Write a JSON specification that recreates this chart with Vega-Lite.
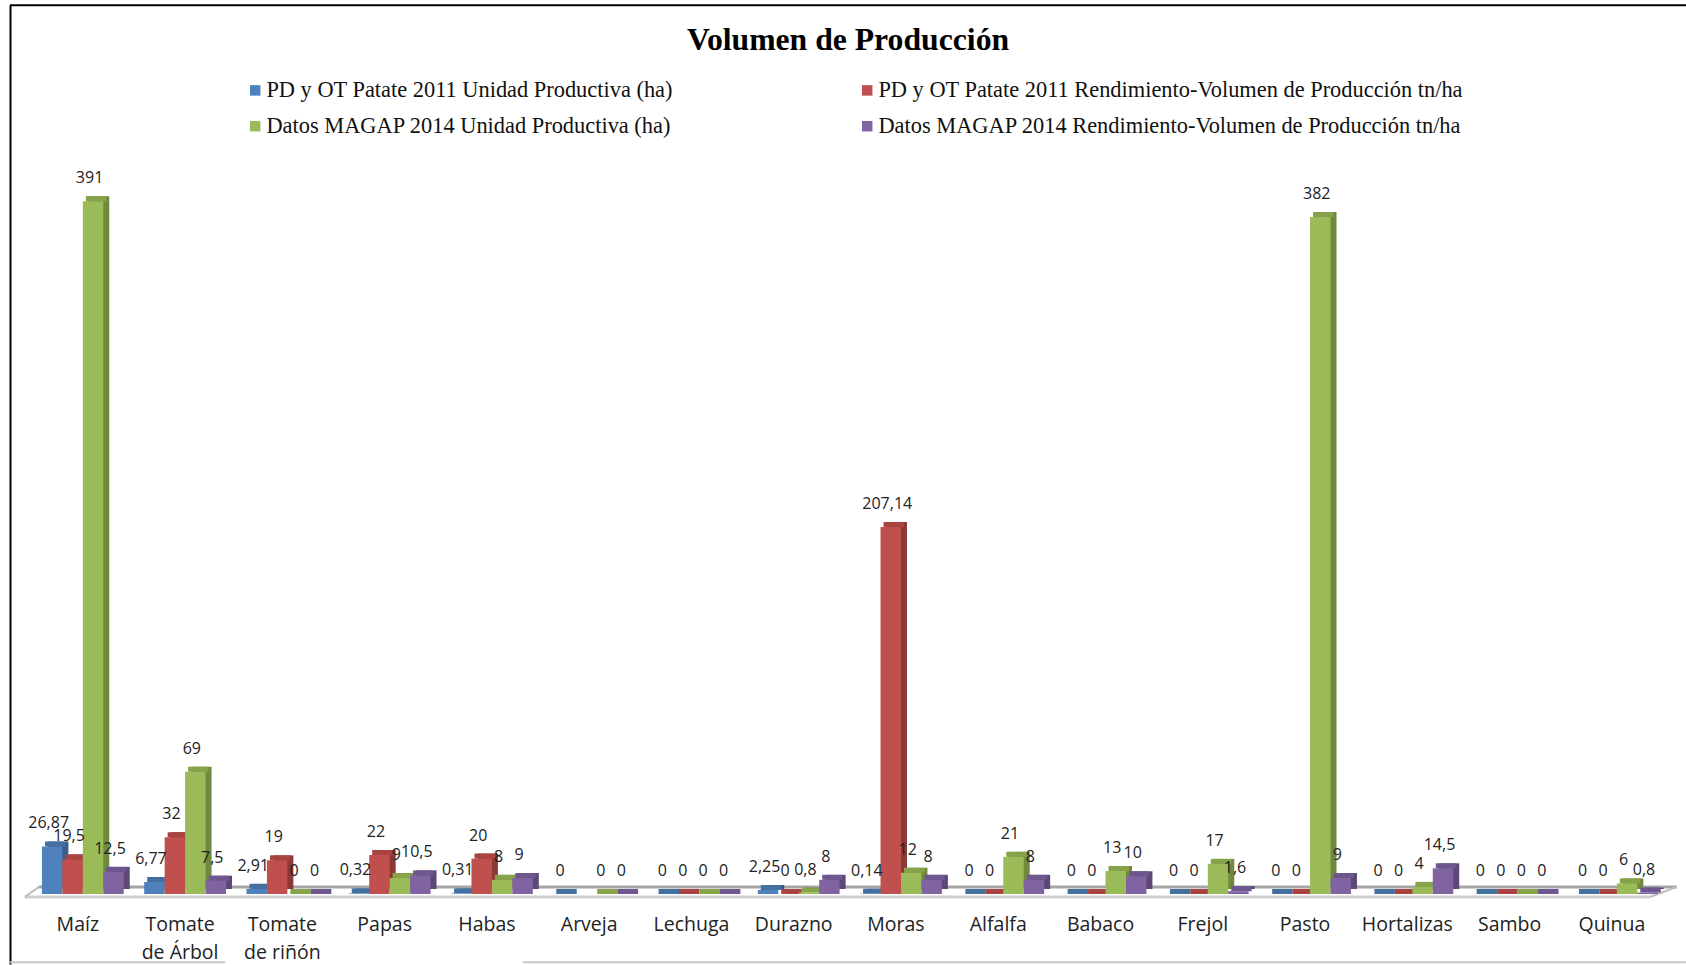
{"$schema":"https://vega.github.io/schema/vega-lite/v6.json","autosize":{"type":"none"},"padding":{"left":10,"top":5,"right":0,"bottom":1},"width":1676,"height":959,"background":"white","config":{"view":{"stroke":null}},
"title":{"text":"Volumen de Producción","font":"Liberation Serif","fontWeight":"bold","fontSize":31.7,"color":"#000000","anchor":"middle","frame":"group","offset":-52},
"datasets":{"d":[
{"c":"Maíz","s":"a","v":26.87,"t":"26,87"},{"c":"Maíz","s":"b","v":19.5,"t":"19,5"},{"c":"Maíz","s":"c","v":391,"t":"391"},{"c":"Maíz","s":"d","v":12.5,"t":"12,5"},
{"c":"Tomate de Árbol","s":"a","v":6.77,"t":"6,77"},{"c":"Tomate de Árbol","s":"b","v":32,"t":"32"},{"c":"Tomate de Árbol","s":"c","v":69,"t":"69"},{"c":"Tomate de Árbol","s":"d","v":7.5,"t":"7,5"},
{"c":"Tomate de riñón","s":"a","v":2.91,"t":"2,91"},{"c":"Tomate de riñón","s":"b","v":19,"t":"19"},{"c":"Tomate de riñón","s":"c","v":0,"t":"0"},{"c":"Tomate de riñón","s":"d","v":0,"t":"0"},
{"c":"Papas","s":"a","v":0.32,"t":"0,32"},{"c":"Papas","s":"b","v":22,"t":"22"},{"c":"Papas","s":"c","v":9,"t":"9"},{"c":"Papas","s":"d","v":10.5,"t":"10,5"},
{"c":"Habas","s":"a","v":0.31,"t":"0,31"},{"c":"Habas","s":"b","v":20,"t":"20"},{"c":"Habas","s":"c","v":8,"t":"8"},{"c":"Habas","s":"d","v":9,"t":"9"},
{"c":"Arveja","s":"a","v":0,"t":"0"},{"c":"Arveja","s":"c","v":0,"t":"0"},{"c":"Arveja","s":"d","v":0,"t":"0"},
{"c":"Lechuga","s":"a","v":0,"t":"0"},{"c":"Lechuga","s":"b","v":0,"t":"0"},{"c":"Lechuga","s":"c","v":0,"t":"0"},{"c":"Lechuga","s":"d","v":0,"t":"0"},
{"c":"Durazno","s":"a","v":2.25,"t":"2,25"},{"c":"Durazno","s":"b","v":0,"t":"0"},{"c":"Durazno","s":"c","v":0.8,"t":"0,8"},{"c":"Durazno","s":"d","v":8,"t":"8"},
{"c":"Moras","s":"a","v":0.14,"t":"0,14"},{"c":"Moras","s":"b","v":207.14,"t":"207,14"},{"c":"Moras","s":"c","v":12,"t":"12"},{"c":"Moras","s":"d","v":8,"t":"8"},
{"c":"Alfalfa","s":"a","v":0,"t":"0"},{"c":"Alfalfa","s":"b","v":0,"t":"0"},{"c":"Alfalfa","s":"c","v":21,"t":"21"},{"c":"Alfalfa","s":"d","v":8,"t":"8"},
{"c":"Babaco","s":"a","v":0,"t":"0"},{"c":"Babaco","s":"b","v":0,"t":"0"},{"c":"Babaco","s":"c","v":13,"t":"13"},{"c":"Babaco","s":"d","v":10,"t":"10"},
{"c":"Frejol","s":"a","v":0,"t":"0"},{"c":"Frejol","s":"b","v":0,"t":"0"},{"c":"Frejol","s":"c","v":17,"t":"17"},{"c":"Frejol","s":"d","v":1.6,"t":"1,6"},
{"c":"Pasto","s":"a","v":0,"t":"0"},{"c":"Pasto","s":"b","v":0,"t":"0"},{"c":"Pasto","s":"c","v":382,"t":"382"},{"c":"Pasto","s":"d","v":9,"t":"9"},
{"c":"Hortalizas","s":"a","v":0,"t":"0"},{"c":"Hortalizas","s":"b","v":0,"t":"0"},{"c":"Hortalizas","s":"c","v":4,"t":"4"},{"c":"Hortalizas","s":"d","v":14.5,"t":"14,5"},
{"c":"Sambo","s":"a","v":0,"t":"0"},{"c":"Sambo","s":"b","v":0,"t":"0"},{"c":"Sambo","s":"c","v":0,"t":"0"},{"c":"Sambo","s":"d","v":0,"t":"0"},
{"c":"Quinua","s":"a","v":0,"t":"0"},{"c":"Quinua","s":"b","v":0,"t":"0"},{"c":"Quinua","s":"c","v":6,"t":"6"},{"c":"Quinua","s":"d","v":0.8,"t":"0,8"}
]},
"data":{"name":"d"},
"transform":[{"lookup":"s","from":{"data":{"values":[{"s":"a","Serie":"PD y OT Patate 2011 Unidad Productiva (ha)"},{"s":"b","Serie":"PD y OT Patate 2011 Rendimiento-Volumen de Producción tn/ha"},{"s":"c","Serie":"Datos MAGAP 2014 Unidad Productiva (ha)"},{"s":"d","Serie":"Datos MAGAP 2014 Rendimiento-Volumen de Producción tn/ha"}]},"key":"s","fields":["Serie"]}}],
"resolve":{"scale":{"color":"independent","xOffset":"independent"},"axis":{"x":"independent","y":"independent"}},
"layer":[
{"data":{"values":[{}]},"mark":{"type":"rule","color":"#A6A6A6","strokeWidth":3,"xOffset":-44,"x2Offset":60},"encoding":{"x":{"datum":"Maíz","axis":null},"x2":{"datum":"Quinua"},"y":{"datum":4,"axis":null}}},
{"data":{"values":[{}]},"mark":{"type":"rule","color":"#CFCFCF","strokeWidth":3,"xOffset":-58,"x2Offset":33},"encoding":{"x":{"datum":"Maíz","axis":null},"x2":{"datum":"Quinua"},"y":{"datum":-1.7,"axis":null}}},
{"data":{"values":[{}]},"mark":{"type":"rule","color":"#BDBDBD","strokeWidth":2,"xOffset":-58,"x2Offset":-44},"encoding":{"x":{"datum":"Maíz","axis":null},"x2":{"datum":"Maíz"},"y":{"datum":-1.7,"axis":null},"y2":{"datum":4}}},
{"data":{"values":[{}]},"mark":{"type":"rule","color":"#BDBDBD","strokeWidth":2,"xOffset":33,"x2Offset":60},"encoding":{"x":{"datum":"Quinua","axis":null},"x2":{"datum":"Quinua"},"y":{"datum":-1.7,"axis":null},"y2":{"datum":4}}},
{"data":{"values":[{}]},"mark":{"type":"rule","color":"#000000","strokeWidth":2},"encoding":{"y":{"datum":501.5,"axis":null}}},
{"data":{"values":[{}]},"mark":{"type":"rule","color":"#C8C8C8","strokeWidth":2,"xOffset":-73,"x2Offset":40},"encoding":{"x":{"datum":"Maíz","axis":null},"x2":{"datum":"Tomate de Árbol"},"y":{"datum":-38.5,"axis":null}}},
{"data":{"values":[{}]},"mark":{"type":"rule","color":"#C8C8C8","strokeWidth":2,"xOffset":31,"x2Offset":69},"encoding":{"x":{"datum":"Habas","axis":null},"x2":{"datum":"Quinua"},"y":{"datum":-38.5,"axis":null}}},
{"mark":{"type":"bar","yOffset":-5,"y2Offset":-5},"encoding":{
 "x":{"field":"c","type":"nominal","sort":null,"axis":null},
 "xOffset":{"field":"s","type":"nominal","sort":null,"scale":{"domain":["a","b","c","d"],"range":[6,108.27],"paddingInner":0,"paddingOuter":0.5}},
 "y":{"field":"v","type":"quantitative","axis":null},
 "y2":{"datum":0},
 "color":{"field":"s","type":"nominal","legend":null,"scale":{"domain":["a","b","c","d"],"range":["#385D8A","#8C3836","#71893F","#5C4776"]}}}},
{"mark":{"type":"bar","yOffset":-5,"y2Offset":0},"encoding":{
 "x":{"field":"c","type":"nominal","sort":null,"axis":null},
 "xOffset":{"field":"s","type":"nominal","sort":null,"scale":{"domain":["a","b","c","d"],"range":[3,105.27],"paddingInner":0,"paddingOuter":0.5}},
 "y":{"field":"v","type":"quantitative","axis":null},
 "y2":{"field":"v"},
 "color":{"field":"s","type":"nominal","legend":null,"scale":{"domain":["a","b","c","d"],"range":["#44709F","#A84341","#86A34A","#6E568F"]}}}},
{"mark":{"type":"bar"},"encoding":{
 "x":{"field":"c","type":"nominal","title":null,"sort":null,
  "scale":{"domain":["Maíz","Tomate de Árbol","Tomate de riñón","Papas","Habas","Arveja","Lechuga","Durazno","Moras","Alfalfa","Babaco","Frejol","Pasto","Hortalizas","Sambo","Quinua"],"range":[21.7,1658],"paddingInner":0,"paddingOuter":0},
  "axis":{"orient":"bottom","offset":-49,"domain":false,"ticks":false,"labelAngle":0,"labelOffset":-5,"labelPadding":0,"labelFont":"Open Sans","labelFontSize":19.5,"labelColor":"#222222","labelLineHeight":28,"labelLimit":200,"grid":false,"labelExpr":"datum.label=='Tomate de Árbol'?['Tomate','de Árbol']:datum.label=='Tomate de riñón'?['Tomate','de riñón']:datum.label"}},
 "xOffset":{"field":"s","type":"nominal","sort":null,"scale":{"domain":["a","b","c","d"],"range":[0,102.27],"paddingInner":0,"paddingOuter":0.5}},
 "y":{"field":"v","type":"quantitative","title":null,"scale":{"domain":[-39.5,501.7],"nice":false,"zero":false},"axis":{"orient":"left","labels":false,"ticks":false,"grid":false,"domain":true,"domainColor":"#000000","domainWidth":2,"title":null}},
 "y2":{"datum":0},
 "color":{"field":"Serie","type":"nominal","title":null,"sort":null,
  "scale":{"domain":["PD y OT Patate 2011 Unidad Productiva (ha)","PD y OT Patate 2011 Rendimiento-Volumen de Producción tn/ha","Datos MAGAP 2014 Unidad Productiva (ha)","Datos MAGAP 2014 Rendimiento-Volumen de Producción tn/ha"],"range":["#4F81BD","#C0504D","#9BBB59","#8064A2"]},
  "legend":{"orient":"none","legendX":234,"legendY":74,"direction":"horizontal","columns":2,"columnPadding":183,"rowPadding":13,"symbolType":"square","symbolSize":110,"symbolStrokeWidth":0,"symbolOpacity":1,"labelFont":"Liberation Serif","labelFontSize":22.4,"labelColor":"#111111","labelLimit":700,"labelOffset":0,"title":null}}}},
{"mark":{"type":"text","font":"Open Sans","fontSize":16,"color":"#222222","baseline":"middle","dy":-23,"dx":-3.5},"encoding":{
 "x":{"field":"c","type":"nominal","sort":null,"axis":null},
 "xOffset":{"field":"s","type":"nominal","sort":null,"scale":{"domain":["a","b","c","d"],"range":[0,102.27],"padding":1}},
 "y":{"field":"v","type":"quantitative","axis":null},
 "text":{"field":"t"}}}
]}
